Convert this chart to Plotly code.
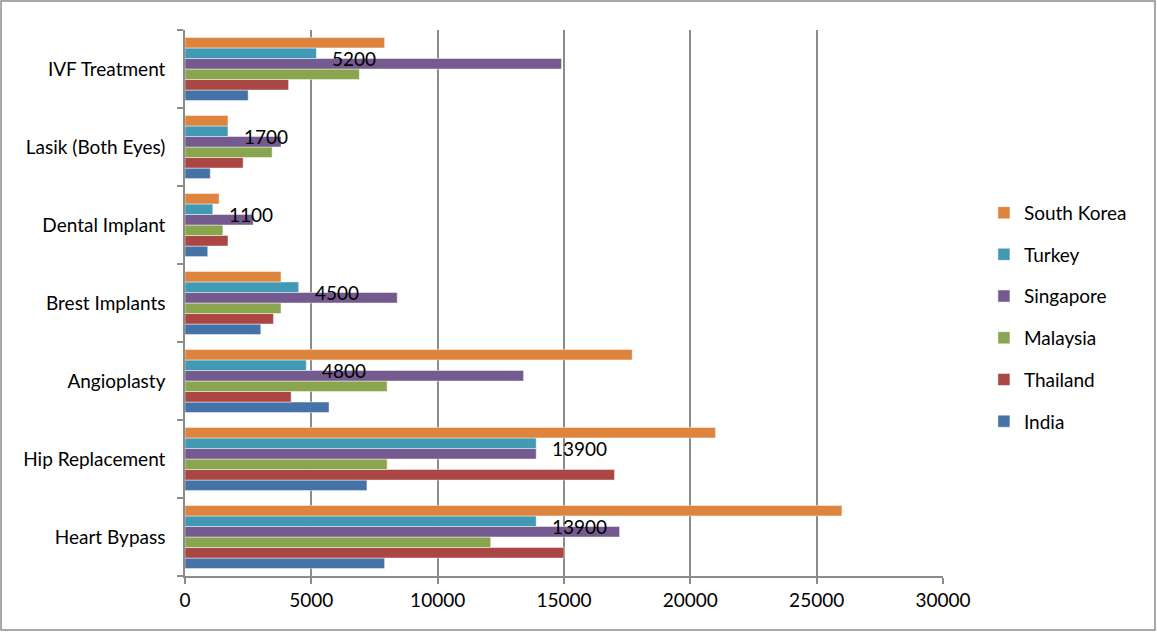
import plotly.graph_objects as go

# Procedures, bottom to top as drawn
PROCEDURES = ['Heart Bypass', 'Hip Replacement', 'Angioplasty', 'Brest Implants',
              'Dental Implant', 'Lasik (Both Eyes)', 'IVF Treatment']

INDIA = [7900, 7200, 5700, 3000, 900, 1000, 2500]
THAILAND = [15000, 17000, 4200, 3500, 1700, 2300, 4100]
MALAYSIA = [12100, 8000, 8000, 3800, 1500, 3450, 6900]
SINGAPORE = [17200, 13900, 13400, 8400, 2700, 3800, 14900]
TURKEY = [13900, 13900, 4800, 4500, 1100, 1700, 5200]
SOUTH_KOREA = [26000, 21000, 17700, 3800, 1350, 1700, 7900]

X_TICKS = [0, 5000, 10000, 15000, 20000, 25000, 30000]

SERIES = [
    ('India', INDIA, '#4572A7'),
    ('Thailand', THAILAND, '#AA4643'),
    ('Malaysia', MALAYSIA, '#89A54E'),
    ('Singapore', SINGAPORE, '#745A8F'),
    ('Turkey', TURKEY, '#4299B3'),
    ('South Korea', SOUTH_KOREA, '#DD843E'),
]

FONT = 'Lato, "Open Sans", sans-serif'
GRID_COLOUR = '#8C8C8C'

fig = go.Figure()
for i, (name, values, colour) in enumerate(SERIES):
    fig.add_trace(go.Bar(y=PROCEDURES, x=values, name=name, orientation='h',
                         legendgroup=name, legendrank=len(SERIES) - i,
                         marker=dict(color=colour,
                                     line=dict(color='rgba(255,255,255,0.45)', width=1))))

# data labels on the Turkey series
for proc, val in zip(PROCEDURES, TURKEY):
    fig.add_annotation(x=val, y=proc, text=str(val), showarrow=False,
                       xanchor='left', xshift=14, yshift=11,
                       font=dict(size=19, color='black', family=FONT))

# outer frame of the chart
fig.add_shape(type='rect', xref='paper', yref='paper',
              x0=-0.2427, x1=1.2797, y0=-0.0989, y1=1.0531,
              line=dict(color=GRID_COLOUR, width=1.5))

fig.update_layout(
    width=1157, height=632,
    margin=dict(l=185, r=214, t=30, b=56),
    paper_bgcolor='white', plot_bgcolor='white',
    barmode='group', bargap=0.19, bargroupgap=0,
    font=dict(family=FONT, size=19, color='black'),
    legend=dict(traceorder='grouped', x=1.054, xanchor='left',
                y=0.70, yanchor='top', tracegroupgap=14,
                font=dict(size=19, family=FONT)),
)
fig.update_xaxes(range=[0, 30000], tickvals=X_TICKS,
                 ticktext=[str(t) for t in X_TICKS], showgrid=True,
                 gridcolor=GRID_COLOUR, gridwidth=1.5, zeroline=False,
                 showline=True, linecolor=GRID_COLOUR, linewidth=1.5,
                 ticks='outside', ticklen=6, tickcolor=GRID_COLOUR, tickwidth=1.5,
                 tickfont=dict(size=19))
fig.update_yaxes(showgrid=False, showline=True, linecolor=GRID_COLOUR, linewidth=1.5,
                 ticks='outside', tickson='boundaries', ticklen=6,
                 tickcolor=GRID_COLOUR, tickwidth=1.5, ticklabelstandoff=14,
                 tickfont=dict(size=19))

# drop the page's default body margin so the figure sits at the window corner
fig.write_html("out.html", config={'displayModeBar': False},
               post_script="document.body.style.margin='0';")
